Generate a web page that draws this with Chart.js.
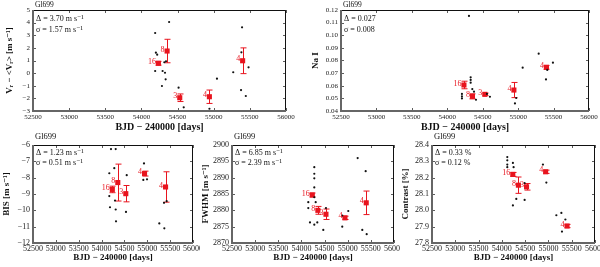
<!DOCTYPE html>
<html lang="en">
<head>
<meta charset="UTF-8" />
<title>Gl699 - RV and activity indicators</title>
<script src="https://cdn.jsdelivr.net/npm/chart.js"></script>
<style>
  html, body { margin: 0; padding: 0; background: #fff; }
  #wrap { position: relative; width: 600px; height: 267px; overflow: hidden; }
  #wrap canvas { position: absolute; }
</style>
</head>
<body>
<div id="wrap">
  <canvas id="cRV" width="300" height="135" style="left:0;top:0"></canvas>
  <canvas id="cNa" width="300" height="135" style="left:300px;top:0"></canvas>
  <canvas id="cBIS" width="200" height="134" style="left:0;top:133px"></canvas>
  <canvas id="cFW" width="200" height="134" style="left:200px;top:133px"></canvas>
  <canvas id="cCt" width="200" height="134" style="left:400px;top:133px"></canvas>
</div>
<script>
  // axis ticks
  const dayTicks = [52500, 53000, 53500, 54000, 54500, 55000, 55500, 56000];
  const rvTicks = [-3, -2, -1, 0, 1, 2, 3, 4, 5];
  const naTicks = [0.04, 0.05, 0.06, 0.07, 0.08, 0.09, 0.10, 0.11, 0.12];
  const bisTicks = [-12, -11, -10, -9, -8, -7, -6];
  const fwTicks = [2870, 2875, 2880, 2885, 2890, 2895, 2900];
  const ctTicks = [27.8, 27.9, 28.0, 28.1, 28.2, 28.3, 28.4];

  // binned points (same bins in every panel)
  const binDays = [54235, 54355, 54530, 54940, 55400];
  const binCounts = ['16', '8', '3', '4', '4'];

  // radial velocity
  const rvDays = [54190, 54383, 54200, 54218, 54340, 54317, 54190, 54293, 54326, 54335, 54284, 54514, 54585, 54941, 55045, 55270, 55392, 55383, 55482, 55378, 55444];
  const rvVals = [3.18, 4.05, 1.62, 1.46, 0.94, 0.86, 0.17, 0.17, 0.03, -0.49, -1.02, -1.15, -2.71, -2.82, -0.44, 0.07, 3.63, 1.65, 0.46, -1.34, -1.81];
  const rvBin = [0.78, 1.75, -1.95, -1.87, 0.98];
  const rvErr = [0.15, 0.93, 0.3, 0.53, 1.02];

  // Na I index
  const naDays = [54306, 55290, 55064, 55491, 55411, 55393, 54330, 54330, 54330, 54353, 54377, 54207, 54207, 54207, 54405, 54602, 54973, 54955, 54560];
  const naVals = [0.1153, 0.0854, 0.0743, 0.0783, 0.0725, 0.065, 0.0667, 0.0646, 0.0624, 0.0574, 0.0553, 0.0535, 0.0516, 0.050, 0.0489, 0.0513, 0.0503, 0.046, 0.0535];
  const naBin = [0.0606, 0.0516, 0.0532, 0.0566, 0.0746];
  const naErr = [0.003, 0.002, 0.001, 0.006, 0.0015];

  // bisector span
  const bisDays = [54206, 54309, 54278, 54169, 54550, 54928, 54994, 54913, 55460, 55366, 55424, 55263, 55373, 54169, 54184, 54294, 54309, 54316, 54534];
  const bisVals = [-6.25, -6.25, -7.42, -7.73, -7.85, -7.13, -8.1, -8.14, -6.0, -9.54, -9.44, -10.8, -11.1, -9.13, -9.81, -9.4, -9.95, -10.67, -10.1];
  const bisBin = [-8.72, -8.3, -8.98, -7.75, -8.57];
  const bisErr = [0.2, 1.13, 0.5, 0.15, 0.93];

  // FWHM
  const fwDays = [54278, 54278, 54278, 54278, 54278, 54148, 54308, 54148, 54185, 54278, 54343, 54472, 54530, 54882, 54882, 55012, 55215, 55388, 55315, 55410];
  const fwVals = [2893.2, 2891.2, 2889.8, 2887, 2884, 2882.5, 2882.5, 2880.7, 2876.3, 2875.6, 2876.3, 2874, 2880.7, 2878.4, 2875, 2879.8, 2896, 2892, 2874, 2872.7];
  const fwBin = [2884.7, 2880, 2878.8, 2877.7, 2882.3];
  const fwErr = [0.6, 1.2, 1.6, 0.5, 3.6];

  // contrast
  const ctDays = [54117, 54117, 54117, 54117, 54237, 54252, 54310, 54237, 54489, 54489, 54882, 54955, 55278, 55170, 55364, 55291];
  const ctVals = [28.326, 28.306, 28.28, 28.264, 28.29, 28.264, 28.07, 28.03, 28.166, 28.064, 28.28, 28.17, 27.984, 27.97, 27.944, 27.87];
  const ctBin = [28.22, 28.154, 28.144, 28.236, 27.904];
  const ctErr = [0.012, 0.05, 0.02, 0.01, 0.01];

  const RED = '#e8141e';
  const SERIF = "'Liberation Serif', 'DejaVu Serif', serif";

  // frame, inward ticks, error bars and text notes
  const panelPlugin = {
    id: 'panel',
    beforeDatasetsDraw(chart, args, o) {
      const { ctx, scales: { x, y } } = chart;
      ctx.save();
      ctx.strokeStyle = RED;
      ctx.lineWidth = 1;
      o.bin.forEach((v, i) => {
        const px = Math.round(x.getPixelForValue(binDays[i])) + 0.5;
        const y1 = y.getPixelForValue(v - o.err[i]);
        const y2 = y.getPixelForValue(v + o.err[i]);
        ctx.beginPath();
        ctx.moveTo(px, y1); ctx.lineTo(px, y2);
        ctx.moveTo(px - 3, y1); ctx.lineTo(px + 3, y1);
        ctx.moveTo(px - 3, y2); ctx.lineTo(px + 3, y2);
        ctx.stroke();
      });
      ctx.restore();
    },
    afterDraw(chart, args, o) {
      const { ctx, chartArea: a, scales: { x, y } } = chart;
      ctx.save();
      // ticks
      ctx.strokeStyle = '#333';
      ctx.lineWidth = 0.8;
      ctx.beginPath();
      x.ticks.forEach(t => {
        const px = Math.round(x.getPixelForValue(t.value)) + 0.5;
        ctx.moveTo(px, a.bottom); ctx.lineTo(px, a.bottom - 3);
        ctx.moveTo(px, a.top); ctx.lineTo(px, a.top + 3);
      });
      y.ticks.forEach(t => {
        const py = Math.round(y.getPixelForValue(t.value)) + 0.5;
        ctx.moveTo(a.left, py); ctx.lineTo(a.left + 3, py);
        ctx.moveTo(a.right, py); ctx.lineTo(a.right - 3, py);
      });
      ctx.stroke();
      // frame
      ctx.strokeStyle = '#111';
      ctx.lineWidth = 1;
      ctx.beginPath();
      ctx.moveTo(a.left, a.top + 0.5); ctx.lineTo(a.right - 0.5, a.top + 0.5); ctx.lineTo(a.right - 0.5, a.bottom);
      ctx.stroke();
      ctx.strokeStyle = '#666';
      ctx.lineWidth = 2;
      ctx.beginPath();
      ctx.moveTo(a.left, a.top); ctx.lineTo(a.left, a.bottom); ctx.lineTo(a.right, a.bottom);
      ctx.stroke();
      // counts next to binned points
      ctx.fillStyle = RED;
      ctx.font = o.countFont + 'px ' + SERIF;
      ctx.textAlign = 'right';
      ctx.textBaseline = 'middle';
      o.bin.forEach((v, i) => {
        ctx.fillText(binCounts[i], x.getPixelForValue(binDays[i]) - 2.5, y.getPixelForValue(v) - 1.5);
      });
      // star name and notes
      ctx.fillStyle = '#111';
      ctx.textAlign = 'left';
      ctx.font = o.nameFont + 'px ' + SERIF;
      ctx.fillText('Gl699', a.left + 2, a.top - o.nameGap);
      ctx.font = o.noteFont + 'px ' + SERIF;
      ctx.fillText(o.notes[0], a.left + 3, a.top + o.noteY[0]);
      ctx.fillText(o.notes[1], a.left + 3, a.top + o.noteY[1]);
      ctx.restore();
    }
  };

  function fmt(v, d) {
    const s = Math.abs(v).toFixed(d);
    return v < 0 ? '\u2212' + s : s;
  }

  function makePanel(id, p) {
    const fixTicks = arr => s => { s.ticks = arr.map(v => ({ value: v })); };
    new Chart(document.getElementById(id), {
      type: 'scatter',
      data: {
        datasets: [
          {
            data: p.days.map((d, i) => ({ x: d, y: p.vals[i] })),
            pointRadius: 1.1, pointBackgroundColor: '#111', pointBorderWidth: 0
          },
          {
            data: binDays.map((d, i) => ({ x: d, y: p.bin[i] })),
            pointStyle: 'rect', pointRadius: 3.6, pointBackgroundColor: RED, pointBorderWidth: 0
          }
        ]
      },
      options: {
        responsive: false,
        animation: false,
        events: [],
        layout: { padding: { left: 0, top: p.padTop, right: p.padRight, bottom: 0 } },
        plugins: {
          legend: { display: false },
          tooltip: { enabled: false },
          panel: {
            bin: p.bin, err: p.err, notes: p.notes, noteY: p.noteY,
            nameFont: p.nameFont, nameGap: p.nameGap, noteFont: p.noteFont, countFont: p.countFont
          }
        },
        scales: {
          x: {
            type: 'linear', min: dayTicks[0], max: dayTicks[dayTicks.length - 1],
            afterBuildTicks: fixTicks(dayTicks),
            afterFit(s) { s.height = p.xH; s.paddingLeft = 0; s.paddingRight = 0; },
            grid: { display: false, drawTicks: false },
            border: { display: false },
            ticks: {
              autoSkip: false, maxRotation: 0, minRotation: 0, padding: p.xTickPad, color: '#222',
              font: { family: SERIF, size: p.tickFont },
              callback: v => String(v)
            },
            title: {
              display: true, text: 'BJD \u2212 240000 [days]', color: '#111',
              font: { family: SERIF, size: p.titleFont, weight: 'bold' },
              padding: { top: 0, bottom: p.xTitlePad }
            }
          },
          y: {
            type: 'linear', min: p.yTicks[0], max: p.yTicks[p.yTicks.length - 1],
            afterBuildTicks: fixTicks(p.yTicks),
            afterFit(s) { s.width = p.yW; s.paddingTop = 0; s.paddingBottom = 0; },
            grid: { display: false, drawTicks: false },
            border: { display: false },
            ticks: {
              padding: 3, color: '#222',
              font: { family: SERIF, size: p.tickFont },
              callback: v => fmt(v, p.dec)
            },
            title: {
              display: true, text: p.yTitle, color: '#111',
              font: { family: SERIF, size: p.yTitleFont, weight: 'bold' },
              padding: { top: p.yTitlePad, bottom: 0 }
            }
          }
        }
      },
      plugins: [panelPlugin]
    });
  }

  const topRow = { padTop: 10, xH: 24, tickFont: 7, titleFont: 10, xTickPad: 2, xTitlePad: 1.5, yTitleFont: 9,
                   nameFont: 7.5, nameGap: 5, noteFont: 8, countFont: 8 };
  const bottomRow = { padTop: 12, xH: 24, tickFont: 8, titleFont: 9, xTickPad: 1, xTitlePad: 4, yTitleFont: 9,
                      nameFont: 8.5, nameGap: 8, noteFont: 8, countFont: 8 };

  makePanel('cRV', Object.assign({}, topRow, {
    days: rvDays, vals: rvVals, bin: rvBin, err: rvErr, yTicks: rvTicks, dec: 0,
    padRight: 14, yW: 33, yTitlePad: 4.5,
    yTitle: 'V\u1D63 \u2212 <V\u1D63> [m s\u207B\u00B9]',
    notes: ['\u0394 = 3.70 m s\u207B\u00B9', '\u03C3 = 1.57 m s\u207B\u00B9'], noteY: [8.5, 20]
  }));
  makePanel('cNa', Object.assign({}, topRow, {
    days: naDays, vals: naVals, bin: naBin, err: naErr, yTicks: naTicks, dec: 2,
    padRight: 11, yW: 41, yTitlePad: 10,
    yTitle: 'Na I',
    notes: ['\u0394 = 0.027', '\u03C3 = 0.008'], noteY: [9, 20]
  }));
  makePanel('cBIS', Object.assign({}, bottomRow, {
    days: bisDays, vals: bisVals, bin: bisBin, err: bisErr, yTicks: bisTicks, dec: 0,
    padRight: 7, yW: 33, yTitlePad: 1,
    yTitle: 'BIS [m s\u207B\u00B9]',
    notes: ['\u0394 = 1.23 m s\u207B\u00B9', '\u03C3 = 0.51 m s\u207B\u00B9'], noteY: [8, 18]
  }));
  makePanel('cFW', Object.assign({}, bottomRow, {
    days: fwDays, vals: fwVals, bin: fwBin, err: fwErr, yTicks: fwTicks, dec: 0,
    padRight: 6, yW: 32, yTitlePad: 0,
    yTitle: 'FWHM [m s\u207B\u00B9]',
    notes: ['\u0394 = 6.85 m s\u207B\u00B9', '\u03C3 = 2.39 m s\u207B\u00B9'], noteY: [8, 18]
  }));
  makePanel('cCt', Object.assign({}, bottomRow, {
    days: ctDays, vals: ctVals, bin: ctBin, err: ctErr, yTicks: ctTicks, dec: 1,
    padRight: 5, yW: 32, yTitlePad: 0,
    yTitle: 'Contrast [%]',
    notes: ['\u0394 = 0.33 %', '\u03C3 = 0.12 %'], noteY: [8, 18]
  }));
</script>
</body>
</html>
